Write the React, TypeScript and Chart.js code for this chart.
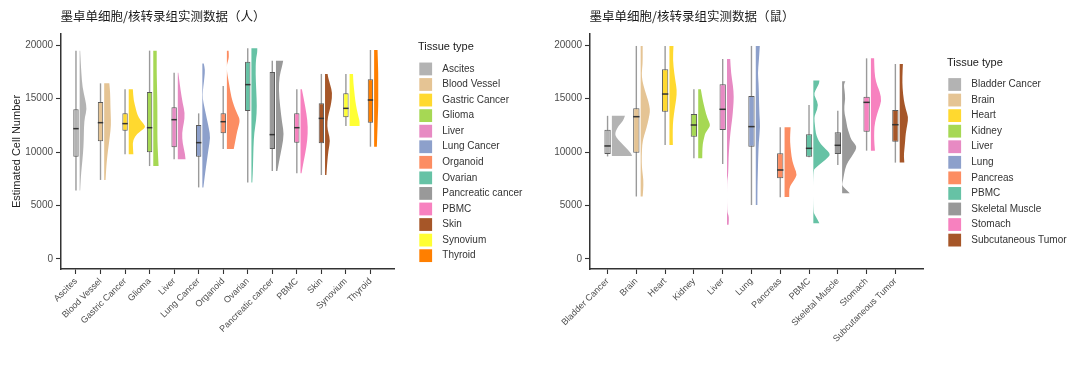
import React, { useEffect, useRef } from 'react';
import { Chart, registerables } from 'chart.js';

Chart.register(...registerables);

type Profile = [number, number][]; // [cell number, relative density]

// ---------- shared ----------
const legendTitle = 'Tissue type';
const yAxisTitle = 'Estimated Cell Number';
const yTicks = [0, 5000, 10000, 15000, 20000];

// ---------- human panel ----------
const humanTitle = '墨卓单细胞/核转录组实测数据（人）';
const humanTissues = ['Ascites', 'Blood Vessel', 'Gastric Cancer', 'Glioma', 'Liver', 'Lung Cancer', 'Organoid', 'Ovarian', 'Pancreatic cancer', 'PBMC', 'Skin', 'Synovium', 'Thyroid'];
const humanColors = ['#b3b3b3', '#e5c494', '#ffd92f', '#a6d854', '#e78ac3', '#8da0cb', '#fc8d62', '#66c2a5', '#999999', '#f781bf', '#a65628', '#ffff33', '#ff7f00'];
const humanMin = [6400, 7400, 9800, 8700, 9330, 6700, 10300, 7150, 8240, 8020, 7860, 12450, 10510];
const humanQ1 = [9580, 11010, 12010, 9980, 10450, 9580, 11760, 13850, 10300, 10890, 10830, 13260, 12760];
const humanMedian = [12200, 12760, 12670, 12290, 13040, 10890, 12850, 16320, 11640, 12290, 13160, 14100, 14880];
const humanQ3 = [14010, 14700, 13630, 15630, 14200, 12540, 13630, 18470, 17500, 13630, 14570, 15510, 16820];
const humanMax = [19500, 16440, 15880, 19500, 17440, 13630, 16190, 19720, 18560, 15880, 17320, 17320, 19560];
const humanViolins: Profile[] = [
  [[6400, 0.03], [7500, 0.06], [8600, 0.12], [9900, 0.2], [11100, 0.24], [12400, 0.25], [13300, 0.3], [14000, 0.42], [14900, 0.33], [16100, 0.16], [17400, 0.1], [18500, 0.06], [19500, 0.03]],
  [[7400, 0.08], [8600, 0.12], [9600, 0.18], [10500, 0.25], [11500, 0.33], [12500, 0.4], [13500, 0.38], [14500, 0.36], [15500, 0.35], [16440, 0.3]],
  [[9800, 0.27], [10500, 0.24], [11100, 0.24], [11760, 0.5], [12300, 0.98], [12600, 0.9], [13000, 0.68], [13500, 0.5], [14000, 0.42], [14900, 0.28], [15880, 0.24]],
  [[8700, 0.31], [9600, 0.28], [11100, 0.24], [12500, 0.24], [14300, 0.24], [16000, 0.22], [17400, 0.2], [19500, 0.2]],
  [[9330, 0.45], [9900, 0.42], [10800, 0.28], [11800, 0.24], [12700, 0.35], [13600, 0.42], [14600, 0.28], [15800, 0.16], [16800, 0.08], [17440, 0.03]],
  [[6700, 0.06], [7500, 0.12], [8000, 0.16], [8950, 0.24], [10200, 0.35], [11400, 0.47], [12200, 0.38], [13000, 0.28], [14200, 0.12], [15000, 0.02], [15800, 0.03], [16400, 0.08], [17000, 0.12], [17700, 0.16], [18300, 0.08]],
  [[10300, 0.4], [11100, 0.5], [12000, 0.6], [13000, 0.78], [13600, 0.6], [14300, 0.42], [15200, 0.25], [16100, 0.16], [17000, 0.06], [17400, 0.02], [17700, 0], [18200, 0], [18500, 0.06], [18900, 0.12], [19500, 0.1]],
  [[7150, 0.05], [8000, 0.08], [9300, 0.1], [10500, 0.12], [11800, 0.16], [13000, 0.28], [14300, 0.32], [15800, 0.28], [17400, 0.24], [18700, 0.26], [19300, 0.34], [19720, 0.34]],
  [[8240, 0.08], [9300, 0.2], [10500, 0.35], [11700, 0.47], [12700, 0.36], [14300, 0.24], [15800, 0.16], [17100, 0.2], [18000, 0.35], [18560, 0.42]],
  [[8020, 0.06], [8950, 0.16], [9900, 0.28], [11100, 0.4], [12400, 0.43], [13600, 0.35], [14900, 0.2], [15880, 0.08]],
  [[7860, 0.08], [8950, 0.12], [10200, 0.2], [11100, 0.3], [11800, 0.2], [12400, 0.12], [13300, 0.16], [14000, 0.28], [14600, 0.36], [15500, 0.43], [16300, 0.3], [17000, 0.18], [17320, 0.15]],
  [[12450, 0.58], [12800, 0.6], [13300, 0.52], [14000, 0.42], [14800, 0.33], [15600, 0.28], [16500, 0.22], [17320, 0.2]],
  [[10510, 0.16], [11500, 0.18], [12400, 0.2], [13500, 0.22], [14300, 0.24], [15500, 0.24], [16500, 0.24], [17400, 0.24], [18500, 0.22], [19560, 0.2]],
];

// ---------- mouse panel ----------
const mouseTitle = '墨卓单细胞/核转录组实测数据（鼠）';
const mouseTissues = ['Bladder Cancer', 'Brain', 'Heart', 'Kidney', 'Liver', 'Lung', 'Pancreas', 'PBMC', 'Skeletal Muscle', 'Stomach', 'Subcutaneous Tumor'];
const mouseColors = ['#b3b3b3', '#e5c494', '#ffd92f', '#a6d854', '#e78ac3', '#8da0cb', '#fc8d62', '#66c2a5', '#999999', '#f781bf', '#a65628'];
const mouseMin = [9600, 5850, 10670, 9430, 8890, 5050, 5770, 9520, 8800, 10140, 9020];
const mouseQ1 = [9830, 9950, 13790, 11450, 12070, 10510, 7550, 9580, 9830, 11920, 10980];
const mouseMedian = [10580, 13320, 15440, 12540, 14010, 12390, 8330, 10360, 10640, 14660, 12570];
const mouseQ3 = [12090, 14100, 17760, 13570, 16350, 15260, 9890, 11670, 11860, 15190, 13950];
const mouseMax = [13400, 19940, 19940, 15880, 18720, 19940, 12320, 14410, 13880, 18780, 18250];
const mouseViolins: Profile[] = [
  [[9640, 1.0], [9800, 1.0], [10200, 0.8], [10700, 0.55], [11200, 0.3], [11600, 0.15], [12000, 0.2], [12500, 0.35], [12900, 0.55], [13400, 0.65]],
  [[5850, 0.1], [6500, 0.13], [7400, 0.14], [8200, 0.08], [9000, 0.05], [10200, 0.06], [11100, 0.1], [12000, 0.25], [12700, 0.35], [13500, 0.44], [14000, 0.47], [14800, 0.38], [15800, 0.2], [16700, 0.08], [17400, 0.05], [18300, 0.1], [19200, 0.1], [19940, 0.1]],
  [[10670, 0.17], [11500, 0.16], [12700, 0.17], [13500, 0.22], [14300, 0.28], [15000, 0.34], [15800, 0.37], [16600, 0.3], [17400, 0.24], [18600, 0.17], [19940, 0.2]],
  [[9430, 0.2], [9900, 0.2], [10800, 0.22], [11400, 0.3], [11800, 0.35], [12300, 0.55], [12600, 0.6], [13200, 0.45], [14000, 0.33], [14900, 0.22], [15880, 0.13]],
  [[3200, 0.08], [3700, 0.1], [4100, 0.08], [4400, 0], [7300, 0], [7700, 0.05], [8600, 0.07], [9500, 0.08], [10200, 0.1], [11000, 0.13], [11800, 0.17], [12600, 0.22], [13300, 0.27], [14200, 0.31], [15200, 0.34], [16200, 0.3], [17400, 0.2], [18720, 0.16]],
  [[5050, 0.08], [6500, 0.08], [8000, 0.1], [9500, 0.12], [11000, 0.15], [12400, 0.22], [13500, 0.18], [15000, 0.16], [16500, 0.14], [17400, 0.1], [18500, 0.15], [19940, 0.2]],
  [[5800, 0.23], [6300, 0.23], [6800, 0.25], [7300, 0.45], [7900, 0.63], [8500, 0.5], [9200, 0.38], [10000, 0.32], [11000, 0.27], [11700, 0.28], [12320, 0.3]],
  [[3350, 0.3], [3700, 0.2], [4100, 0.08], [4400, 0], [8300, 0], [8500, 0.1], [9000, 0.4], [9600, 0.8], [9900, 0.82], [10300, 0.6], [10800, 0.35], [11300, 0.2], [11800, 0.12], [12500, 0.08], [13200, 0.04], [13600, 0.1], [14400, 0.27], [15100, 0.1], [15500, 0.02], [16100, 0.2], [16400, 0.28], [16700, 0.3]],
  [[6150, 0.38], [6500, 0.2], [6800, 0.03], [7000, 0], [7300, 0.04], [8000, 0.1], [8800, 0.2], [9400, 0.4], [9800, 0.55], [10500, 0.76], [11100, 0.46], [11700, 0.36], [12300, 0.25], [13000, 0.2], [13600, 0.12], [14300, 0.1], [15000, 0.16], [15800, 0.12], [16300, 0.08], [16630, 0.16]],
  [[10140, 0.2], [10800, 0.17], [11500, 0.16], [12400, 0.17], [13200, 0.25], [14000, 0.38], [14800, 0.53], [15600, 0.45], [16200, 0.32], [17000, 0.2], [18000, 0.17], [18780, 0.16]],
  [[9020, 0.23], [9600, 0.2], [10200, 0.23], [11000, 0.27], [11800, 0.3], [12600, 0.38], [13300, 0.43], [14000, 0.3], [14900, 0.2], [16000, 0.14], [17000, 0.13], [18250, 0.16]],
];

// ---------- styling ----------
const LATIN = '"Liberation Sans", Arial, sans-serif';
const CJK = '"Noto Sans CJK SC", "Noto Sans", sans-serif';
const AXIS = '#333333';
const WHISKER = '#9a9a9a';
const BOX_BORDER = '#5a5a5a';
const MEDIAN = '#333333';

interface Panel {
  title: string;
  tissues: string[];
  colors: string[];
  min: number[];
  q1: number[];
  median: number[];
  q3: number[];
  max: number[];
  violins: Profile[];
  yTitle: string | null;
  yAxisWidth: number;
  rightPad: number;
}

function makeChart(canvas: HTMLCanvasElement, p: Panel) {
  const n = p.tissues.length;
  const xs = p.tissues.map((_, i) => i + 1);
  const violinOffset = 0.15;
  const violinScale = 0.7;

  const plugin = {
    id: 'raincloud',
    beforeDatasetsDraw(chart: any) {
      const { ctx } = chart;
      const x = chart.scales.x;
      const y = chart.scales.y;
      ctx.save();
      p.violins.forEach((prof, i) => {
        const c = xs[i] + violinOffset;
        const base = x.getPixelForValue(c);
        const pts = prof.map(([v, d]) => ({ px: x.getPixelForValue(c + d * violinScale), py: y.getPixelForValue(v) }));
        const last = pts.length - 1;
        ctx.beginPath();
        ctx.moveTo(base, pts[0].py);
        ctx.lineTo(pts[0].px, pts[0].py);
        for (let k = 1; k < last; k++) {
          const mx = (pts[k].px + pts[k + 1].px) / 2;
          const my = (pts[k].py + pts[k + 1].py) / 2;
          ctx.quadraticCurveTo(pts[k].px, pts[k].py, mx, my);
        }
        ctx.lineTo(pts[last].px, pts[last].py);
        ctx.lineTo(base, pts[last].py);
        ctx.closePath();
        ctx.fillStyle = p.colors[i];
        ctx.fill();
      });
      ctx.restore();
    },
    afterDatasetsDraw(chart: any) {
      const { ctx } = chart;
      const y = chart.scales.y;
      const meta = chart.getDatasetMeta(1);
      ctx.save();
      ctx.strokeStyle = MEDIAN;
      ctx.lineWidth = 1.5;
      meta.data.forEach((el: any, i: number) => {
        const { x, width } = el.getProps(['x', 'width'], true);
        const py = y.getPixelForValue(p.median[i]);
        ctx.beginPath();
        ctx.moveTo(x - width / 2, py);
        ctx.lineTo(x + width / 2, py);
        ctx.stroke();
      });
      ctx.restore();
    },
    afterDraw(chart: any) {
      const { ctx, chartArea } = chart;
      ctx.save();
      // title
      ctx.fillStyle = '#1a1a1a';
      ctx.font = `12.5px ${CJK}`;
      ctx.textBaseline = 'middle';
      ctx.textAlign = 'left';
      ctx.fillText(p.title, chartArea.left - 0.5, 16.5);
      // legend
      const lx = chartArea.right + 24;
      const step = 15.56;
      const cy = (chartArea.top + chartArea.bottom) / 2 + 10.8;
      const first = cy - ((n - 1) * step) / 2;
      ctx.font = `11px ${LATIN}`;
      ctx.fillStyle = '#1a1a1a';
      ctx.fillText(legendTitle, lx, first - 21.5);
      ctx.font = `10px ${LATIN}`;
      p.tissues.forEach((t, i) => {
        const yy = first + i * step;
        ctx.fillStyle = p.colors[i];
        ctx.fillRect(lx + 1.3, yy - 6.4, 12.8, 12.8);
        ctx.fillStyle = '#333333';
        ctx.fillText(t, lx + 24.3, yy);
      });
      ctx.restore();
    },
  };

  return new Chart(canvas, {
    type: 'bar',
    data: {
      datasets: [
        {
          label: 'whisker',
          data: xs.map((x, i) => ({ x, y: [p.min[i], p.max[i]] })) as any,
          backgroundColor: WHISKER,
          maxBarThickness: 1.4,
          grouped: false,
          order: 2,
        },
        {
          label: 'box',
          data: xs.map((x, i) => ({ x, y: [p.q1[i], p.q3[i]] })) as any,
          backgroundColor: p.colors,
          borderColor: BOX_BORDER,
          borderWidth: 1,
          borderSkipped: false,
          barPercentage: 0.22,
          categoryPercentage: 1,
          grouped: false,
          order: 1,
        },
      ],
    },
    options: {
      animation: false,
      responsive: false,
      maintainAspectRatio: false,
      events: [],
      layout: { padding: { top: 34, right: p.rightPad, left: 0, bottom: 0 } },
      plugins: {
        legend: { display: false },
        title: { display: false },
        tooltip: { enabled: false },
      },
      scales: {
        x: {
          type: 'linear',
          offset: false,
          min: 0.39,
          max: n + 0.96,
          afterBuildTicks: (s: any) => {
            s.ticks = xs.map((v) => ({ value: v }));
          },
          afterFit: (s: any) => {
            s.height = 105;
          },
          ticks: {
            autoSkip: false,
            minRotation: 45,
            maxRotation: 45,
            padding: 2,
            color: '#4d4d4d',
            font: { family: LATIN, size: 9 },
            callback: (_v: any, idx: number) => p.tissues[idx] ?? '',
          },
          grid: { drawOnChartArea: false, drawTicks: true, tickLength: 5, color: AXIS, tickWidth: 1.1, offset: false },
          border: { display: true, color: AXIS, width: 1.5 },
        },
        y: {
          type: 'linear',
          min: -936,
          max: 21058,
          afterBuildTicks: (s: any) => {
            s.ticks = yTicks.map((v) => ({ value: v }));
          },
          afterFit: (s: any) => {
            s.width = p.yAxisWidth;
          },
          ticks: {
            padding: 3,
            color: '#4d4d4d',
            font: { family: LATIN, size: 10 },
            callback: (v: any) => String(v),
          },
          grid: { drawOnChartArea: false, drawTicks: true, tickLength: 5, color: AXIS, tickWidth: 1.1 },
          border: { display: true, color: AXIS, width: 1.5 },
          title: {
            display: !!p.yTitle,
            text: p.yTitle ?? '',
            color: '#222222',
            font: { family: LATIN, size: 11 },
            padding: { top: 10.5, bottom: 0 },
          },
        },
      },
    } as any,
    plugins: [plugin],
  });
}

const humanPanel: Panel = {
  title: humanTitle,
  tissues: humanTissues,
  colors: humanColors,
  min: humanMin,
  q1: humanQ1,
  median: humanMedian,
  q3: humanQ3,
  max: humanMax,
  violins: humanViolins,
  yTitle: yAxisTitle,
  yAxisWidth: 61,
  rightPad: 146,
};

const mousePanel: Panel = {
  title: mouseTitle,
  tissues: mouseTissues,
  colors: mouseColors,
  min: mouseMin,
  q1: mouseQ1,
  median: mouseMedian,
  q3: mouseQ3,
  max: mouseMax,
  violins: mouseViolins,
  yTitle: null,
  yAxisWidth: 50,
  rightPad: 157,
};

function PanelChart({ panel, left }: { panel: Panel; left: number }) {
  const ref = useRef<HTMLCanvasElement | null>(null);
  useEffect(() => {
    if (!ref.current) return;
    const chart = makeChart(ref.current, panel);
    return () => chart.destroy();
  }, [panel]);
  return (
    <canvas
      ref={ref}
      width={540}
      height={374}
      style={{ position: 'absolute', left, top: 0, width: 540, height: 374, display: 'block' }}
    />
  );
}

export default function App() {
  return (
    <div style={{ position: 'absolute', left: 0, top: 0, width: 1080, height: 374, background: '#ffffff', overflow: 'hidden' }}>
      <PanelChart panel={humanPanel} left={0} />
      <PanelChart panel={mousePanel} left={540} />
    </div>
  );
}
